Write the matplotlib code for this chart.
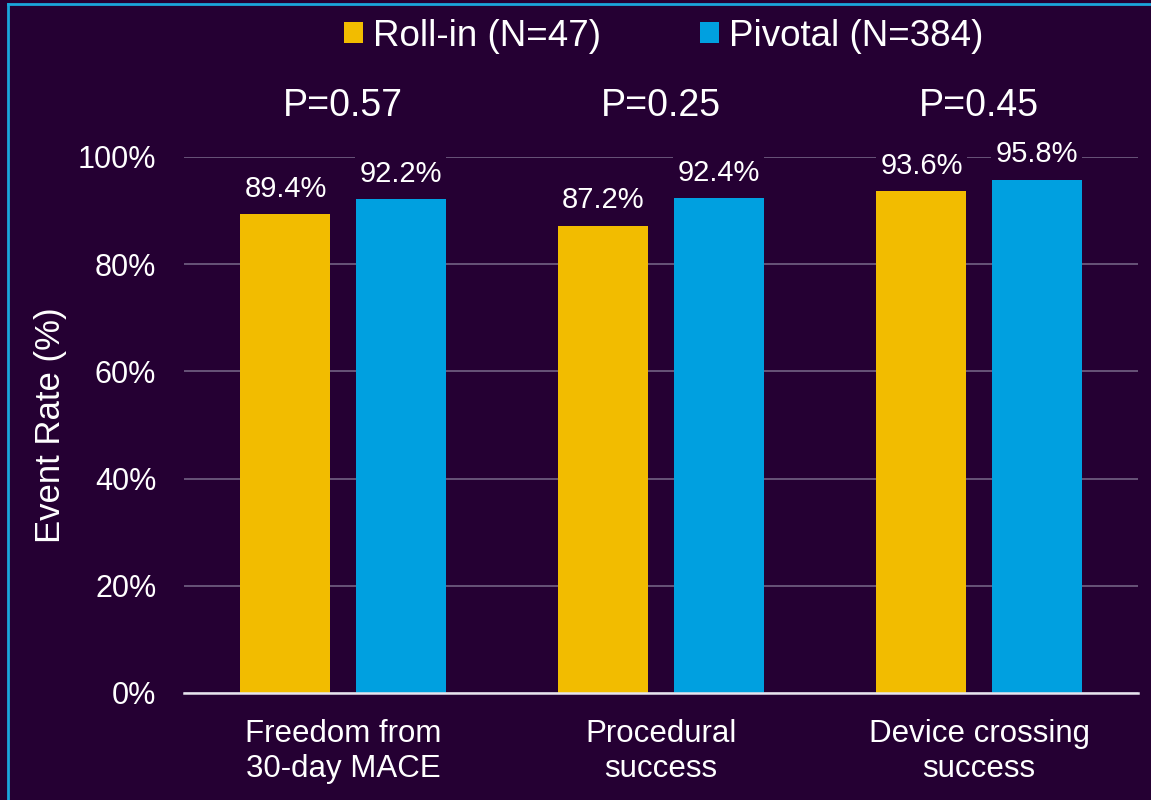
import numpy as np
import matplotlib
matplotlib.use("Agg")
import matplotlib.pyplot as plt

plt.rcParams['font.family'] = ['Liberation Sans', 'DejaVu Sans']

categories = ["Freedom from\n30-day MACE", "Procedural\nsuccess", "Device crossing\nsuccess"]
series_names = ["Roll-in (N=47)", "Pivotal (N=384)"]
roll_in = [89.4, 87.2, 93.6]
pivotal = [92.2, 92.4, 95.8]
p_values = ["P=0.57", "P=0.25", "P=0.45"]
yticks = [0, 20, 40, 60, 80, 100]

bg = "#250033"
yellow = "#f2bc00"
blue = "#00a0e0"
grid_col = "#6c5a7e"

fig = plt.figure(figsize=(11.51, 8), dpi=100, facecolor=bg)
ax = fig.add_axes([0.1599, 0.13375, 0.8288, 0.67])
ax.set_facecolor(bg)

x = np.arange(len(categories))
w = 0.283
off = 0.181
b1 = ax.bar(x - off, roll_in, w, color=yellow, label=series_names[0], zorder=3)
b2 = ax.bar(x + off, pivotal, w, color=blue, label=series_names[1], zorder=3)

for bars, vals in [(b1, roll_in), (b2, pivotal)]:
    for r, v in zip(bars, vals):
        ax.annotate(f"{v:.1f}%", (r.get_x() + r.get_width() / 2, v),
                    xytext=(0, 8), textcoords="offset points",
                    ha="center", va="bottom", color="white", fontsize=21,
                    bbox=dict(boxstyle="square,pad=0.15", fc=bg, ec="none"),
                    zorder=4, annotation_clip=False)

for xi, p in zip(x, p_values):
    ax.text(xi, 109.6, p, ha="center", va="center", color="white", fontsize=27)

ax.set_xlim(-0.5, 2.5)
ax.set_ylim(0, 100)
ax.set_yticks(yticks)
ax.set_yticklabels([f"{t}%" for t in yticks], color="white", fontsize=22)
ax.set_xticks(x)
ax.set_xticklabels(categories, color="white", fontsize=22.5, linespacing=1.22)
ax.tick_params(axis="y", length=0, pad=20)
ax.tick_params(axis="x", length=0, pad=19)
ax.set_ylabel("Event Rate (%)", color="white", fontsize=25, labelpad=8)

ax.yaxis.grid(True, color=grid_col, linewidth=1.3, zorder=0)
for s in ["top", "right", "left"]:
    ax.spines[s].set_visible(False)
ax.spines["bottom"].set_color("#e8e4ee")
ax.spines["bottom"].set_linewidth(1.8)
ax.spines["bottom"].set_zorder(5)

leg = fig.legend(handles=[b1, b2], loc="center", bbox_to_anchor=(0.5765, 0.955),
                 ncol=2, frameon=False, fontsize=26.5, labelcolor="white",
                 handlelength=0.52, handleheight=0.52, handletextpad=0.27,
                 columnspacing=2.7)

# slide frame lines
fig.add_artist(plt.Line2D([0.007, 0.007], [0, 0.995], transform=fig.transFigure,
                          color="#1aa6dc", linewidth=2))
fig.add_artist(plt.Line2D([0.007, 1.0], [0.995, 0.995], transform=fig.transFigure,
                          color="#1aa6dc", linewidth=2))

fig.savefig("out.png", dpi=100, facecolor=bg)
